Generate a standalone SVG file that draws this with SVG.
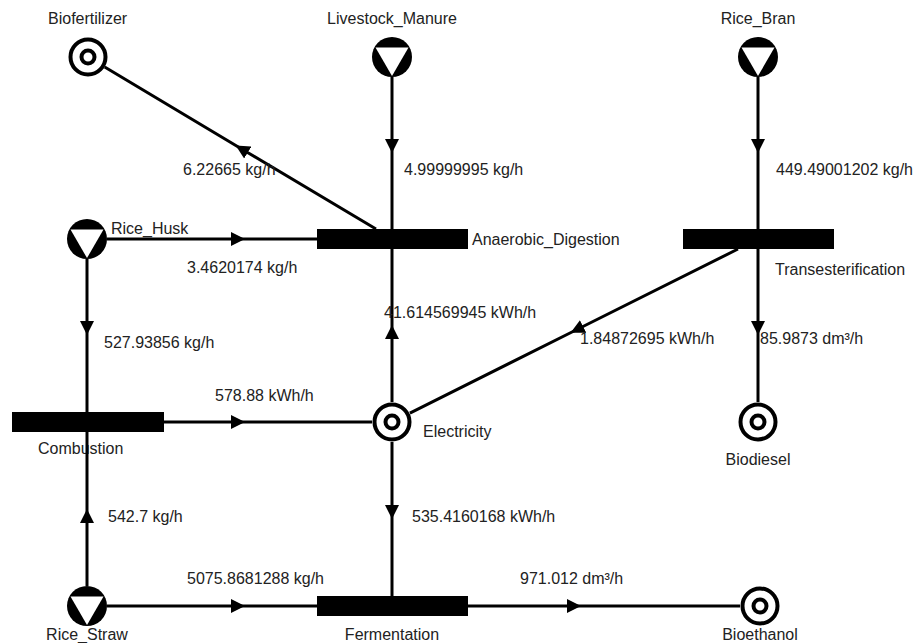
<svg xmlns="http://www.w3.org/2000/svg" xmlns:xlink="http://www.w3.org/1999/xlink" width="919" height="643" viewBox="0 0 919 643">
<style>
text{font-family:"Liberation Sans",Arial,sans-serif;font-size:16px;fill:#222}
.bar{fill:#000}
.ring{fill:#fff;stroke:#000;stroke-width:4}
.edge{fill:none;stroke:#000;stroke-width:3;marker-mid:url(#arr)}
</style>
<defs>
<marker id="arr" markerUnits="userSpaceOnUse" markerWidth="15" markerHeight="15" refX="9" refY="7" orient="auto" viewBox="0 0 15 14">
<path d="M0,0 L14,7 L0,14 z" fill="#000"/>
</marker>
<g id="src">
<circle r="20" fill="#000"/>
<polygon points="-16.5,-9.5 16.5,-9.5 0,19" fill="#fff"/>
</g>
<g id="sink">
<circle r="17.5" class="ring"/>
<circle r="6.5" class="ring"/>
</g>
</defs>
<rect width="919" height="643" fill="#fff"/>

<g id="Biofertilizer"><use xlink:href="#sink" x="88" y="57"/><text x="48" y="24">Biofertilizer</text></g>
<g id="Livestock_Manure"><use xlink:href="#src" x="392" y="57"/><text x="392" y="24" text-anchor="middle">Livestock_Manure</text></g>
<g id="Rice_Bran"><use xlink:href="#src" x="758" y="57"/><text x="758" y="24" text-anchor="middle">Rice_Bran</text></g>
<g id="Rice_Husk"><use xlink:href="#src" x="87" y="239"/><text x="111" y="234">Rice_Husk</text></g>
<g id="Anaerobic_Digestion"><rect class="bar" x="317" y="229" width="151" height="20"/><text x="472" y="245">Anaerobic_Digestion</text></g>
<g id="Transesterification"><rect class="bar" x="683" y="229" width="151" height="20"/><text x="775" y="275">Transesterification</text></g>
<g id="Combustion"><rect class="bar" x="12" y="412" width="152" height="20"/><text x="38" y="454">Combustion</text></g>
<g id="Electricity"><use xlink:href="#sink" x="392" y="422"/><text x="423" y="437">Electricity</text></g>
<g id="Biodiesel"><use xlink:href="#sink" x="758" y="422"/><text x="758" y="465" text-anchor="middle">Biodiesel</text></g>
<g id="Rice_Straw"><use xlink:href="#src" x="87" y="606"/><text x="87" y="640" text-anchor="middle">Rice_Straw</text></g>
<g id="Fermentation"><rect class="bar" x="317" y="596" width="151" height="20"/><text x="392" y="640" text-anchor="middle">Fermentation</text></g>
<g id="Bioethanol"><use xlink:href="#sink" x="760" y="606"/><text x="760" y="640" text-anchor="middle">Bioethanol</text></g>

<g id="connectors">
<path class="edge" d="M392,77 L392,148 L392,229"/>
<path class="edge" d="M758,77 L758,148 L758,229"/>
<path class="edge" d="M376,229 L240,148 L104.7,67"/>
<path class="edge" d="M107,239 L240,239 L317,239"/>
<path class="edge" d="M87,259 L87,330 L87,412"/>
<path class="edge" d="M87,586 L87,514 L87,432"/>
<path class="edge" d="M164,422 L240,422 L372,422"/>
<path class="edge" d="M392,402 L392,330 L392,249"/>
<path class="edge" d="M738,249 L575,330.5 L409.9,413.1"/>
<path class="edge" d="M392,442 L392,514 L392,596"/>
<path class="edge" d="M107,606 L240,606 L317,606"/>
<path class="edge" d="M468,606 L576,606 L740,606"/>
<path class="edge" d="M758,249 L758,330 L758,402"/>
</g>

<g id="edge-labels">
<text x="183" y="175">6.22665 kg/h</text>
<text x="404" y="175">4.99999995 kg/h</text>
<text x="776" y="175">449.49001202 kg/h</text>
<text x="187" y="273">3.4620174 kg/h</text>
<text x="384" y="318">41.614569945 kWh/h</text>
<text x="580" y="344">1.84872695 kWh/h</text>
<text x="760" y="344">85.9873 dm³/h</text>
<text x="104" y="348">527.93856 kg/h</text>
<text x="215" y="401">578.88 kWh/h</text>
<text x="108" y="522">542.7 kg/h</text>
<text x="412" y="522">535.4160168 kWh/h</text>
<text x="187" y="584">5075.8681288 kg/h</text>
<text x="520" y="584">971.012 dm³/h</text>
</g>
</svg>
